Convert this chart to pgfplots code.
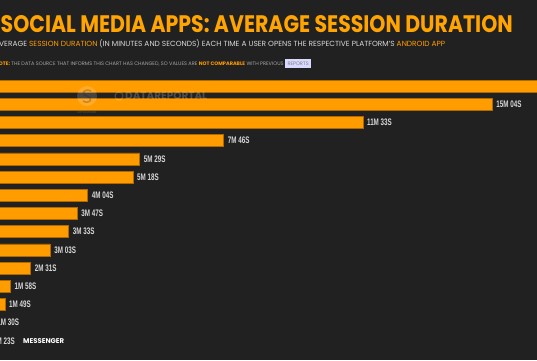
\documentclass[border=0pt]{standalone}
\usepackage{pgfplots}
\usepackage{pgfplotstable}
\pgfplotsset{compat=1.18}
\usepackage{fontspec}
\setmainfont{Poppins}
\newfontfamily\lblfont{Liberation Sans}
\definecolor{bg}{HTML}{212121}
\definecolor{org}{HTML}{FF9C00}
\definecolor{orgdark}{HTML}{B06A00}
\definecolor{ttl}{HTML}{FFA400}
\definecolor{txt}{HTML}{D8D8D8}
\definecolor{note}{HTML}{A8A8A8}
\pgfplotstableread[col sep=comma]{
idx,val,lab
1,1150,{}
2,904,15M 04S
3,693,11M 33S
4,466,7M 46S
5,329,5M 29S
6,318,5M 18S
7,244,4M 04S
8,227,3M 47S
9,213,3M 33S
10,183,3M 03S
11,151,2M 31S
12,118,1M 58S
13,109,1M 49S
14,90,1M 30S
15,83,1M 23S
}\durations
\begin{document}
\begin{tikzpicture}
\useasboundingbox (0pt,0pt) rectangle (537pt,360pt);
\clip (0pt,0pt) rectangle (537pt,360pt);
\fill[bg] (0pt,0pt) rectangle (537pt,360pt);
% title block
\node[anchor=base west, inner sep=0pt, text=ttl] at (0.5pt,328pt)
  {\resizebox{512pt}{17pt}{\bfseries SOCIAL MEDIA APPS: AVERAGE SESSION DURATION}};
\node[anchor=base west, inner sep=0pt, text=txt] at (-6pt,314pt)
  {\resizebox{451pt}{!}{\fontsize{8}{9}\selectfont AVERAGE \textcolor{org}{SESSION DURATION} (IN MINUTES AND SECONDS) EACH TIME A USER OPENS THE RESPECTIVE PLATFORM'S \textcolor{org}{ANDROID APP}}};
\node[anchor=base west, inner sep=0pt, text=note] at (-5pt,294.5pt)
  {\resizebox{316pt}{!}{\fontsize{6}{7}\selectfont \textcolor{org}{\bfseries NOTE:} THE DATA SOURCE THAT INFORMS THIS CHART HAS CHANGED, SO VALUES ARE \textcolor{org}{\bfseries NOT COMPARABLE} WITH PREVIOUS \colorbox{white!85!blue}{\textcolor{gray}{REPORTS}}}};
\begin{axis}[
  at={(-62pt,1pt)}, anchor=south west,
  scale only axis, width=613pt, height=291.2pt,
  xmin=0, xmax=1000, ymin=0, ymax=16,
  y dir=reverse,
  hide axis,
  xbar, bar width=12pt,
  point meta=explicit symbolic,
  nodes near coords={\scalebox{0.66}[1]{\pgfplotspointmeta}},
  nodes near coords style={font=\lblfont\bfseries\fontsize{9.5}{9.5}\selectfont, text=txt, anchor=west, inner sep=0pt, xshift=4pt},
]
\addplot[fill=org, draw=orgdark, line width=0.6pt] table[x=val, y=idx, meta=lab] {\durations};
\end{axis}
% watermark
\fill[white, opacity=0.16] (87pt,264pt) circle (10pt);
\draw[bg, opacity=0.25, line width=1.6pt] (91pt,269pt) .. controls (84pt,272pt) and (80pt,266pt) .. (87pt,264pt) .. controls (94pt,262pt) and (90pt,255pt) .. (83pt,259pt);
\node[anchor=center, inner sep=0pt, text=white, opacity=0.2] at (87pt,248pt) {\fontsize{3.5}{4}\selectfont similarweb};
\draw[white, opacity=0.2, line width=1pt] (119pt,264pt) circle (4pt);
\node[anchor=west, inner sep=0pt, text=white, opacity=0.2] at (125pt,264.5pt) {\resizebox{82pt}{!}{\bfseries DATAREPORTAL}};
\node[anchor=west, inner sep=0pt, text=white] at (23pt,19pt) {\resizebox{41pt}{!}{\bfseries\fontsize{5}{6}\selectfont MESSENGER}};
\end{tikzpicture}
\end{document}
